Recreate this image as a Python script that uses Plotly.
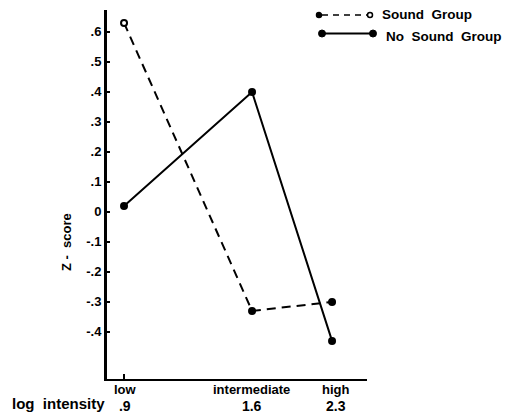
import plotly.graph_objects as go

# ---- data ----
levels = ["low", "intermediate", "high"]
log_intensity = [".9", "1.6", "2.3"]
x_pos = [0, 1, 1.625]            # horizontal placement of the three intensity levels
sound_group = [0.63, -0.33, -0.30]
no_sound_group = [0.02, 0.40, -0.43]
y_ticks = [0.6, 0.5, 0.4, 0.3, 0.2, 0.1, 0.0, -0.1, -0.2, -0.3, -0.4]
y_tick_labels = [".6", ".5", ".4", ".3", ".2", ".1", "0", "-.1", "-.2", "-.3", "-.4"]

FONT = "Liberation Sans, Arial, sans-serif"
BLACK = "#000000"

fig = go.Figure()
fig.add_trace(go.Scatter(
    x=x_pos, y=sound_group, mode="lines+markers", name="Sound Group",
    line=dict(color=BLACK, width=2, dash="9px,6px"),
    marker=dict(size=6, color=["white", BLACK, BLACK], line=dict(color=BLACK, width=2)),
    showlegend=False,
))
fig.add_trace(go.Scatter(
    x=x_pos, y=no_sound_group, mode="lines+markers", name="No Sound Group",
    line=dict(color=BLACK, width=2),
    marker=dict(size=8, color=BLACK),
    showlegend=False,
))

# plot-area geometry (pixels) used to place the hand-drawn legend and labels
L, T, W, H = 107, 10, 260, 369
def px(xp):
    return (xp - L) / W
def py(yp):
    return (T + H - yp) / H

shapes = []
annotations = []
# legend: Sound Group (dashed, small circles)
shapes.append(dict(type="line", xref="paper", yref="paper",
                   x0=px(322), x1=px(367), y0=py(15), y1=py(15),
                   line=dict(color=BLACK, width=1.5, dash="6px,5px")))
shapes.append(dict(type="circle", xref="paper", yref="paper",
                   x0=px(319 - 2.5), x1=px(319 + 2.5), y0=py(15 + 2.5), y1=py(15 - 2.5),
                   line=dict(color=BLACK, width=1.5), fillcolor=BLACK))
shapes.append(dict(type="circle", xref="paper", yref="paper",
                   x0=px(370 - 2.5), x1=px(370 + 2.5), y0=py(15 + 2.5), y1=py(15 - 2.5),
                   line=dict(color=BLACK, width=1.5), fillcolor="white"))
annotations.append(dict(xref="paper", yref="paper", x=px(380), y=py(15),
                        text="Sound  Group", showarrow=False, xanchor="left", yanchor="middle",
                        font=dict(family=FONT, size=13.5, color=BLACK, weight="bold")))
# legend: No Sound Group (solid, filled dots)
shapes.append(dict(type="line", xref="paper", yref="paper",
                   x0=px(322), x1=px(373), y0=py(33.5), y1=py(33.5),
                   line=dict(color=BLACK, width=2)))
for cx in (322, 373):
    shapes.append(dict(type="circle", xref="paper", yref="paper",
                       x0=px(cx - 3.5), x1=px(cx + 3.5), y0=py(33.5 + 3.5), y1=py(33.5 - 3.5),
                       line=dict(color=BLACK, width=1), fillcolor=BLACK))
annotations.append(dict(xref="paper", yref="paper", x=px(384), y=py(36),
                        text="No  Sound  Group", showarrow=False, xanchor="left", yanchor="middle",
                        font=dict(family=FONT, size=13.5, color=BLACK, weight="bold")))

# y-axis title
annotations.append(dict(xref="paper", yref="paper", x=px(66.5), y=py(242.5),
                        text="Z -  score", textangle=-90, showarrow=False,
                        xanchor="center", yanchor="middle",
                        font=dict(family=FONT, size=13, color=BLACK, weight="bold")))
# x-axis title
annotations.append(dict(xref="paper", yref="paper", x=px(10), y=py(403.5),
                        text="log  intensity", showarrow=False,
                        xanchor="left", yanchor="middle",
                        font=dict(family=FONT, size=15, color=BLACK, weight="bold")))
# level names with numeric log-intensity labels beneath, below the x axis
label_shift = [1, -1, 3.5]
for xv, name, num, s in zip(x_pos, levels, log_intensity, label_shift):
    annotations.append(dict(xref="x", yref="paper", x=xv, y=py(398),
                            text=f"{name}<br><span style='font-size:14px'>{num}</span>",
                            showarrow=False, xanchor="center", yanchor="middle",
                            align="center", xshift=s,
                            font=dict(family=FONT, size=13, color=BLACK, weight="bold")))

fig.update_layout(
    width=506, height=413,
    margin=dict(l=L, r=506 - L - W, t=T, b=413 - T - H, pad=0),
    paper_bgcolor="white", plot_bgcolor="white",
    font=dict(family=FONT, size=12, color=BLACK, weight="bold"),
    shapes=shapes, annotations=annotations,
    showlegend=False,
)
fig.update_xaxes(
    range=[-0.133, 1.898], automargin=False,
    tickmode="array", tickvals=x_pos[:1], showticklabels=False,
    showline=True, linecolor=BLACK, linewidth=2,
    ticks="inside", ticklen=5, tickwidth=1.5, tickcolor=BLACK,
    showgrid=False, zeroline=False,
)
fig.update_yaxes(
    range=[-0.557, 0.673], automargin=False,
    tickmode="array", tickvals=y_ticks, ticktext=y_tick_labels,
    showline=True, linecolor=BLACK, linewidth=3,
    ticks="inside", ticklen=3, tickwidth=1.5, tickcolor=BLACK,
    showgrid=False, zeroline=False,
    tickfont=dict(family=FONT, size=13, color=BLACK, weight="bold"),
)

fig.write_html("out.html", config={"displayModeBar": False},
               post_script="document.body.style.margin='0';document.body.style.padding='0';")
